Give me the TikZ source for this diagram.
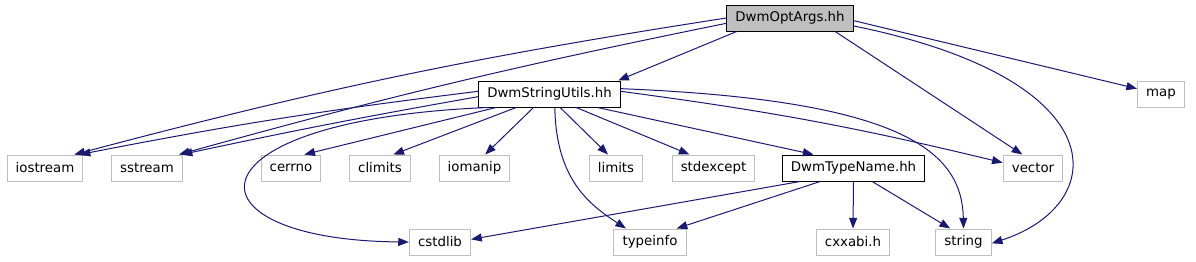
\documentclass[tikz,border=0pt]{standalone}
\usepackage{fontspec}
\usepackage{xcolor}
\usepackage{tikz}
\usetikzlibrary{arrows.meta, positioning}
\newfontfamily\dotfont{DejaVu Sans}
\definecolor{edgeblue}{HTML}{191970}
\definecolor{sysgray}{HTML}{BFBFBF}
\tikzset{
	hdr/.style={draw=black, line width=0.75pt, fill=white, font=\dotfont\fontsize{10}{12}\selectfont, minimum height=19.5pt, inner xsep=6.5pt, inner ysep=0pt},
	roothdr/.style={hdr, fill=sysgray},
	syshdr/.style={hdr, draw=sysgray},
	dep/.style={draw=edgeblue, line width=0.75pt, -{Triangle[length=8pt, width=6pt]}}
}
\begin{document}
\begin{tikzpicture}[x=0.75pt, y=-0.75pt]
			\useasboundingbox (0,0) rectangle (1196,261);
			% Headers:
			\node[roothdr](optargs) at (790, 18){DwmOptArgs.hh};
			\node[hdr](strutils) at (549.5, 94){DwmStringUtils.hh};
			\node[syshdr](map) at (1161, 94){map};
			\node[syshdr](iostream) at (45, 168){iostream};
			\node[syshdr](sstream) at (147, 168){sstream};
			\node[syshdr](cerrno) at (291, 168){cerrno};
			\node[syshdr](climits) at (380, 168){climits};
			\node[syshdr](iomanip) at (474.5, 168){iomanip};
			\node[syshdr](limits) at (616, 168){limits};
			\node[syshdr](stdexcept) at (713.5, 168){stdexcept};
			\node[hdr](typename) at (853.5, 168){DwmTypeName.hh};
			\node[syshdr](vector) at (1033, 168){vector};
			\node[syshdr](cstdlib) at (440, 242){cstdlib};
			\node[syshdr](typeinfo) at (650, 242){typeinfo};
			\node[syshdr](cxxabi) at (853, 242){cxxabi.h};
			\node[syshdr](string) at (963.5, 242){string};
			% Includes of DwmOptArgs.hh:
			\draw[dep] ([xshift=-40pt]optargs.south) -- ([xshift=-2pt]strutils.north east);
			\draw[dep] (optargs.west) to[bend right=3] ([xshift=22pt]iostream.north);
			\draw[dep] ([yshift=-4pt]optargs.west) to[bend right=2] ([xshift=24pt]sstream.north);
			\draw[dep] ([xshift=-14pt]optargs.south east) -- ([xshift=-8pt]vector.north);
			\draw[dep] ([yshift=-6pt]optargs.east) .. controls (1120,80) and (1110,205) .. ([yshift=-1pt]string.east);
			\draw[dep] ([yshift=-2pt]optargs.east) -- ([yshift=4pt]map.west);
			% Includes of DwmStringUtils.hh:
			\draw[dep] ([yshift=2pt]strutils.west) to[bend right=2] ([xshift=26pt]iostream.north);
			\draw[dep] ([yshift=-2pt]strutils.west) to[bend right=1] ([xshift=26pt]sstream.north);
			\draw[dep] ([xshift=-40pt]strutils.south) -- ([xshift=10pt]cerrno.north);
			\draw[dep] ([xshift=-25pt]strutils.south) -- ([xshift=10pt]climits.north);
			\draw[dep] ([xshift=-12pt]strutils.south) -- ([xshift=8pt]iomanip.north);
			\draw[dep] ([xshift=8pt]strutils.south) -- ([xshift=-6pt]limits.north);
			\draw[dep] ([xshift=20pt]strutils.south) -- ([xshift=-18pt]stdexcept.north);
			\draw[dep] ([xshift=36pt]strutils.south) -- ([xshift=-30pt]typename.north);
			\draw[dep] ([yshift=2pt]strutils.east) to[bend left=3] ([yshift=4pt]vector.west);
			\draw[dep] ([yshift=4pt]strutils.east) .. controls (900,100) and (962,150) .. (string.north);
			\draw[dep] ([xshift=-46pt]strutils.south) .. controls (180,120) and (180,240) .. (cstdlib.west);
			\draw[dep] ([xshift=4pt]strutils.south) .. controls (556,180) and (590,205) .. ([xshift=-18pt]typeinfo.north);
			% Includes of DwmTypeName.hh:
			\draw[dep] ([xshift=-40pt]typename.south) -- ([yshift=2pt]cstdlib.east);
			\draw[dep] ([xshift=-25pt]typename.south) -- ([xshift=20pt]typeinfo.north);
			\draw[dep] (typename.south) -- (cxxabi.north);
			\draw[dep] ([xshift=14pt]typename.south) -- ([xshift=-10pt]string.north);
		\end{tikzpicture}
\end{document}
